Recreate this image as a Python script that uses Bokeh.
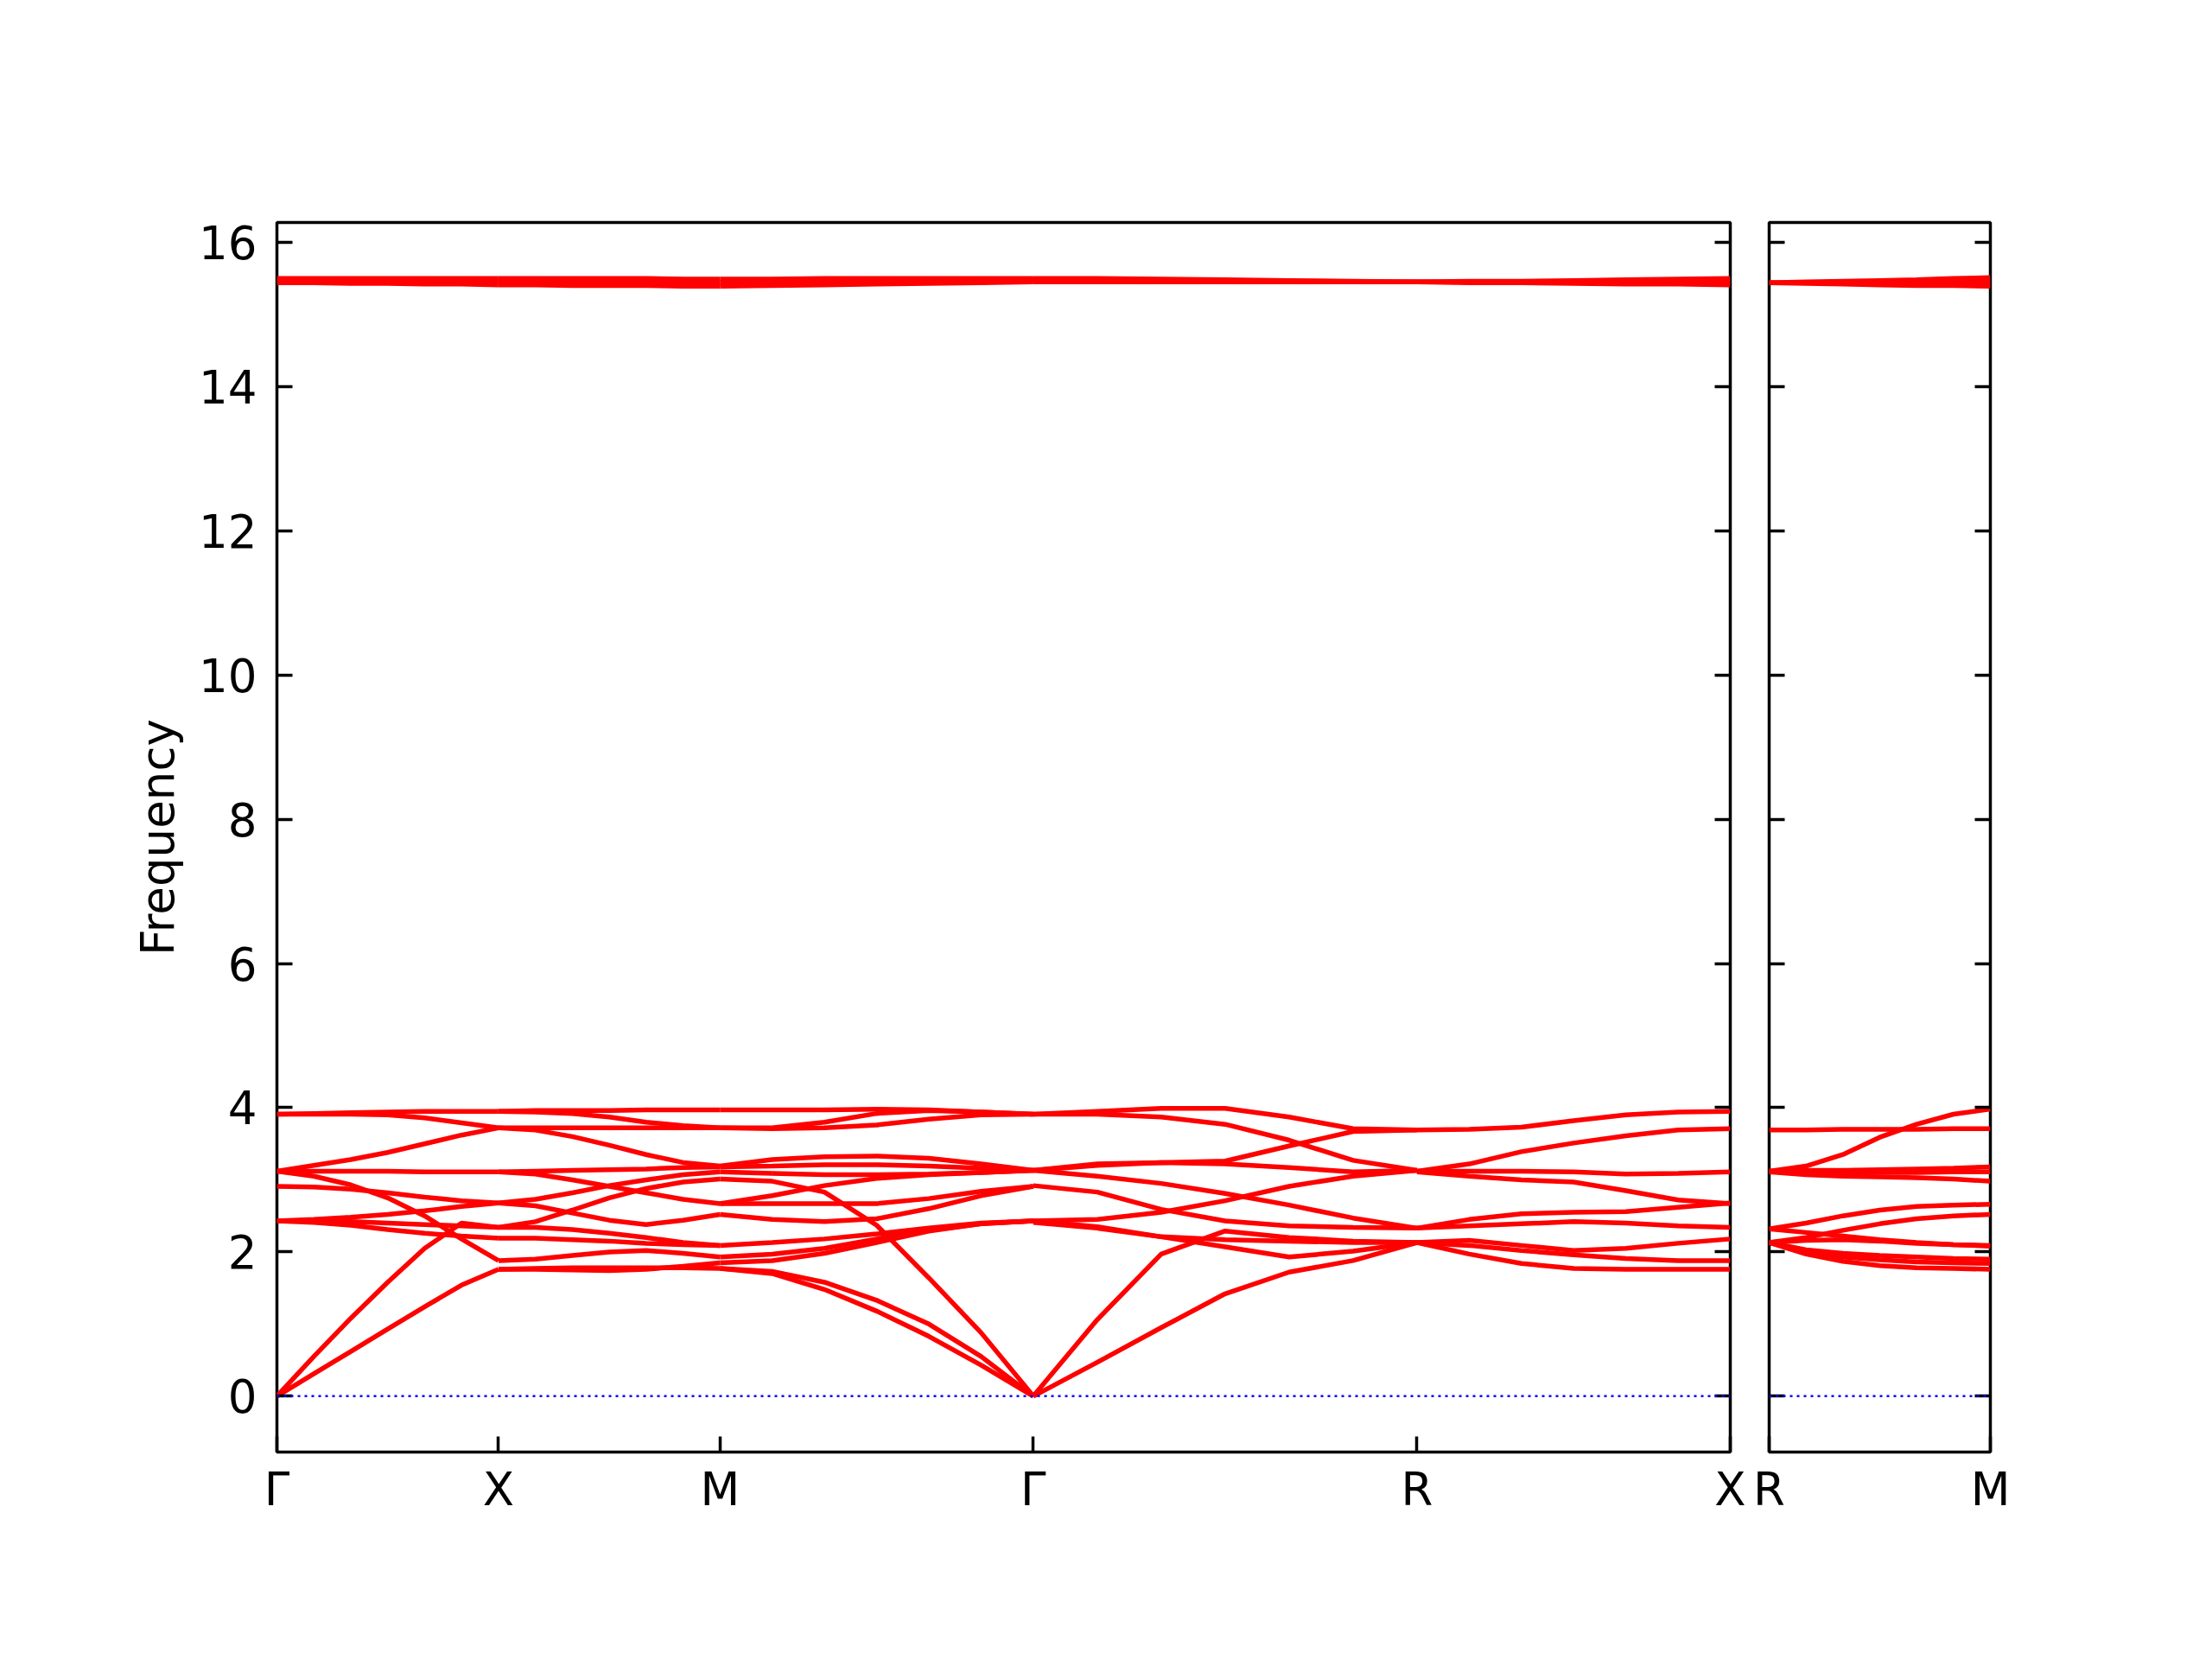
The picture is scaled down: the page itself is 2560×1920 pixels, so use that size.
from bokeh.plotting import figure
from bokeh.models import Range1d, LinearAxis, FixedTicker, Span
from bokeh.layouts import row
from bokeh.embed import file_html
from bokeh.resources import INLINE

# ---------------- data ----------------
left_labels = ["Γ", "X", "M", "Γ", "R", "X"]
left_lengths = [0.5, 0.5, 0.7071, 0.8660, 0.7071]
right_labels = ["R", "M"]
right_lengths = [0.5]
t_samples = [0.0, 1 / 6, 2 / 6, 3 / 6, 4 / 6, 5 / 6, 1.0]
freq_ticks = [0, 2, 4, 6, 8, 10, 12, 14, 16]
y_limits = (-0.775, 16.275)
zero_level = 0.0

seg_GX = [
    [15.50, 15.50, 15.50, 15.50, 15.50, 15.50, 15.50],
    [15.47, 15.47, 15.47, 15.46, 15.46, 15.46, 15.46],
    [15.44, 15.44, 15.43, 15.43, 15.42, 15.42, 15.41],
    [3.91, 3.92, 3.93, 3.94, 3.95, 3.95, 3.95],
    [3.91, 3.91, 3.91, 3.90, 3.86, 3.79, 3.72],
    [3.12, 3.20, 3.28, 3.38, 3.50, 3.62, 3.72],
    [3.12, 3.12, 3.12, 3.12, 3.11, 3.11, 3.11],
    [3.12, 3.05, 2.93, 2.75, 2.50, 2.18, 1.88],
    [2.91, 2.90, 2.87, 2.82, 2.76, 2.71, 2.68],
    [2.43, 2.45, 2.48, 2.52, 2.57, 2.63, 2.68],
    [2.43, 2.43, 2.42, 2.40, 2.38, 2.36, 2.34],
    [2.43, 2.41, 2.37, 2.31, 2.26, 2.22, 2.19],
    [0.00, 0.55, 1.08, 1.58, 2.05, 2.40, 2.34],
    [0.00, 0.31, 0.62, 0.93, 1.24, 1.54, 1.76],
]

seg_XM = [
    [15.50, 15.50, 15.50, 15.50, 15.50, 15.49, 15.49],
    [15.46, 15.46, 15.45, 15.45, 15.45, 15.44, 15.44],
    [15.41, 15.41, 15.40, 15.40, 15.40, 15.39, 15.39],
    [3.95, 3.96, 3.96, 3.96, 3.97, 3.97, 3.97],
    [3.95, 3.94, 3.92, 3.87, 3.80, 3.75, 3.72],
    [3.72, 3.72, 3.72, 3.72, 3.72, 3.72, 3.72],
    [3.72, 3.69, 3.60, 3.48, 3.35, 3.24, 3.19],
    [3.11, 3.12, 3.13, 3.14, 3.15, 3.17, 3.18],
    [3.11, 3.08, 3.00, 2.91, 2.82, 2.73, 2.67],
    [2.68, 2.73, 2.82, 2.92, 3.00, 3.07, 3.11],
    [2.34, 2.42, 2.58, 2.75, 2.88, 2.97, 3.01],
    [2.68, 2.64, 2.54, 2.44, 2.38, 2.44, 2.52],
    [2.34, 2.34, 2.31, 2.26, 2.20, 2.13, 2.09],
    [2.19, 2.19, 2.17, 2.15, 2.12, 2.10, 2.09],
    [1.88, 1.90, 1.95, 2.00, 2.02, 1.98, 1.93],
    [1.76, 1.76, 1.75, 1.74, 1.76, 1.80, 1.85],
    [1.76, 1.77, 1.78, 1.78, 1.78, 1.78, 1.77],
]

seg_MG = [
    [15.49, 15.49, 15.50, 15.50, 15.50, 15.50, 15.50],
    [15.44, 15.45, 15.45, 15.46, 15.47, 15.47, 15.48],
    [15.39, 15.40, 15.41, 15.42, 15.43, 15.44, 15.45],
    [3.97, 3.97, 3.97, 3.98, 3.97, 3.94, 3.91],
    [3.72, 3.72, 3.80, 3.92, 3.96, 3.94, 3.91],
    [3.72, 3.71, 3.72, 3.76, 3.84, 3.90, 3.91],
    [3.19, 3.28, 3.32, 3.33, 3.30, 3.22, 3.13],
    [3.18, 3.19, 3.21, 3.21, 3.19, 3.16, 3.13],
    [3.11, 3.09, 3.07, 3.07, 3.08, 3.10, 3.13],
    [3.01, 2.98, 2.83, 2.37, 1.64, 0.88, 0.00],
    [2.67, 2.67, 2.67, 2.67, 2.74, 2.84, 2.91],
    [2.67, 2.78, 2.92, 3.02, 3.07, 3.10, 3.13],
    [2.52, 2.45, 2.42, 2.46, 2.60, 2.78, 2.91],
    [2.09, 2.13, 2.18, 2.25, 2.33, 2.40, 2.43],
    [1.93, 1.97, 2.05, 2.18, 2.30, 2.39, 2.43],
    [1.85, 1.88, 1.98, 2.13, 2.29, 2.39, 2.43],
    [1.77, 1.73, 1.58, 1.33, 1.00, 0.55, 0.00],
    [1.77, 1.70, 1.48, 1.18, 0.83, 0.43, 0.00],
]

seg_GR = [
    [15.50, 15.50, 15.49, 15.48, 15.47, 15.46, 15.45],
    [15.48, 15.48, 15.47, 15.46, 15.46, 15.45, 15.45],
    [15.45, 15.45, 15.45, 15.45, 15.45, 15.45, 15.45],
    [3.91, 3.95, 3.99, 3.99, 3.87, 3.71, 3.69],
    [3.91, 3.91, 3.87, 3.77, 3.55, 3.27, 3.13],
    [3.13, 3.20, 3.24, 3.26, 3.47, 3.67, 3.69],
    [3.13, 3.22, 3.24, 3.22, 3.17, 3.11, 3.13],
    [3.13, 3.05, 2.95, 2.81, 2.65, 2.47, 2.33],
    [2.92, 2.83, 2.59, 2.43, 2.36, 2.34, 2.33],
    [2.43, 2.45, 2.55, 2.71, 2.91, 3.05, 3.13],
    [2.43, 2.35, 2.21, 2.07, 1.93, 2.01, 2.13],
    [2.41, 2.33, 2.21, 2.17, 2.15, 2.13, 2.13],
    [0.00, 1.06, 1.97, 2.29, 2.20, 2.15, 2.13],
    [0.00, 0.47, 0.95, 1.42, 1.72, 1.88, 2.13],
]

seg_RX = [
    [15.45, 15.46, 15.46, 15.47, 15.48, 15.49, 15.50],
    [15.45, 15.45, 15.45, 15.45, 15.45, 15.45, 15.45],
    [15.45, 15.44, 15.44, 15.43, 15.42, 15.42, 15.41],
    [3.69, 3.70, 3.73, 3.82, 3.90, 3.94, 3.95],
    [3.12, 3.22, 3.39, 3.51, 3.61, 3.69, 3.71],
    [3.12, 3.12, 3.12, 3.11, 3.08, 3.09, 3.11],
    [3.11, 3.05, 3.00, 2.97, 2.85, 2.72, 2.67],
    [2.33, 2.45, 2.53, 2.55, 2.56, 2.62, 2.68],
    [2.33, 2.36, 2.39, 2.42, 2.40, 2.36, 2.34],
    [2.13, 2.16, 2.09, 2.02, 2.05, 2.12, 2.18],
    [2.13, 2.09, 2.02, 1.96, 1.91, 1.88, 1.88],
    [2.13, 1.97, 1.84, 1.77, 1.76, 1.76, 1.76],
]

seg_RM = [
    [15.44, 15.45, 15.46, 15.47, 15.48, 15.50, 15.51],
    [15.44, 15.44, 15.44, 15.45, 15.45, 15.45, 15.45],
    [15.44, 15.43, 15.42, 15.41, 15.40, 15.40, 15.39],
    [3.69, 3.69, 3.70, 3.70, 3.70, 3.71, 3.71],
    [3.12, 3.19, 3.35, 3.59, 3.77, 3.91, 3.98],
    [3.12, 3.13, 3.13, 3.14, 3.15, 3.16, 3.18],
    [3.12, 3.10, 3.10, 3.10, 3.10, 3.11, 3.11],
    [3.11, 3.07, 3.05, 3.04, 3.03, 3.01, 2.98],
    [2.32, 2.40, 2.50, 2.58, 2.63, 2.65, 2.66],
    [2.13, 2.20, 2.30, 2.39, 2.46, 2.50, 2.52],
    [2.32, 2.27, 2.22, 2.17, 2.13, 2.10, 2.08],
    [2.13, 2.16, 2.17, 2.15, 2.12, 2.10, 2.09],
    [2.13, 2.03, 1.98, 1.95, 1.93, 1.91, 1.90],
    [2.13, 2.00, 1.93, 1.89, 1.86, 1.85, 1.84],
    [2.13, 1.97, 1.87, 1.81, 1.78, 1.77, 1.76],
]

left_segments = [seg_GX, seg_XM, seg_MG, seg_GR, seg_RX]
right_segments = [seg_RM]

FONT = "DejaVu Sans"
FSIZE = "53px"


def style_axis(ax, ticks, show_labels):
    ax.axis_line_color = None
    ax.major_tick_in = 18
    ax.major_tick_out = 0
    ax.major_tick_line_width = 3.5
    ax.major_tick_line_color = "black"
    ax.minor_tick_line_color = None
    ax.major_label_text_font = FONT
    ax.major_label_text_font_size = FSIZE
    ax.major_label_text_color = "black"
    if not show_labels:
        ax.major_label_overrides = {v: "" for v in ticks}
        ax.major_label_standoff = 0


def make_panel(labels, lengths, segments, frame_w, left_border, right_border, show_ylabels):
    total = sum(lengths)
    p = figure(
        x_range=Range1d(0, total), y_range=Range1d(*y_limits),
        frame_width=frame_w, frame_height=1423,
        min_border_left=left_border, min_border_right=right_border,
        min_border_top=257, min_border_bottom=150,
        output_backend="svg", toolbar_location=None,
    )
    p.xgrid.visible = False
    p.ygrid.visible = False
    p.outline_line_color = "black"
    p.outline_line_width = 3.5
    p.background_fill_color = "white"
    p.border_fill_color = "white"

    # band lines
    xs, ys = [], []
    start = 0.0
    for seg, length in zip(segments, lengths):
        xvals = [start + t * length for t in t_samples]
        for band in seg:
            xs.append(xvals)
            ys.append(band)
        start += length
    p.multi_line(xs, ys, line_color="red", line_width=5.5)

    p.add_layout(Span(location=zero_level, dimension="width", line_color="blue",
                      line_width=2.5, line_dash="3 5"))

    # x axis: high-symmetry points
    pos = [0.0]
    for length in lengths:
        pos.append(round(pos[-1] + length, 4))
    xax = p.xaxis[0]
    style_axis(xax, pos, True)
    xax.ticker = FixedTicker(ticks=pos)
    xax.major_label_overrides = {v: lab for v, lab in zip(pos, labels)}
    xax.major_label_standoff = 12

    yax = p.yaxis[0]
    yax.ticker = FixedTicker(ticks=freq_ticks)
    style_axis(yax, freq_ticks, show_ylabels)
    if show_ylabels:
        yax.major_label_standoff = 23
        yax.axis_label = "Frequency"
        yax.axis_label_text_font = FONT
        yax.axis_label_text_font_size = FSIZE
        yax.axis_label_text_font_style = "normal"
        yax.axis_label_text_color = "black"
        yax.axis_label_standoff = 14

    rax = LinearAxis(ticker=FixedTicker(ticks=freq_ticks))
    style_axis(rax, freq_ticks, False)
    p.add_layout(rax, "right")
    return p


p1 = make_panel(left_labels, left_lengths, left_segments, 1682, 320, 22, True)
p2 = make_panel(right_labels, right_lengths, right_segments, 256, 23, 60, False)

layout = row(p1, p2)
open("out.html", "w").write(file_html(layout, INLINE))
